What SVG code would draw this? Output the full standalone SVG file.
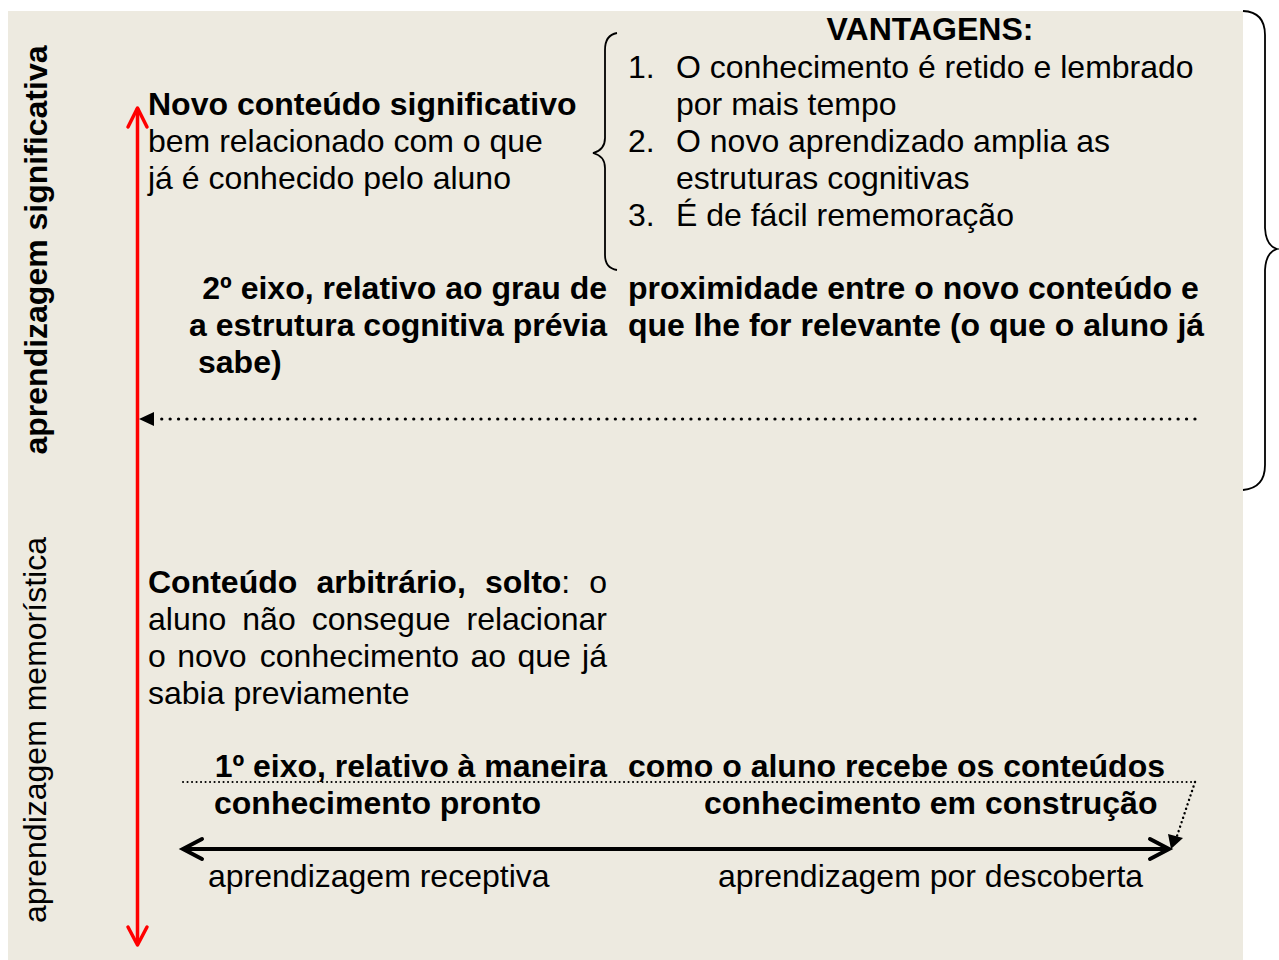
<svg xmlns="http://www.w3.org/2000/svg" width="1279" height="960" viewBox="0 0 1279 960">
<style>
text{font-family:"Liberation Sans",Arial,sans-serif;font-size:32px;fill:#000}
.b{font-weight:bold}
.brace{fill:none;stroke:#000;stroke-width:1.8}
</style>
<rect x="0" y="0" width="1279" height="960" fill="#fff"/>
<rect id="bg" x="8" y="11" width="1235" height="949" fill="#EDEAE0"/>

<g id="label-significativa"><text class="b" transform="translate(47,250) rotate(-90)" text-anchor="middle">aprendizagem significativa</text></g>
<g id="label-memoristica"><text transform="translate(46,730) rotate(-90)" text-anchor="middle">aprendizagem memorística</text></g>

<g id="novo-conteudo">
<text x="148" y="115" class="b">Novo conteúdo significativo</text>
<text x="148" y="152">bem relacionado com o que</text>
<text x="148" y="189">já é conhecido pelo aluno</text>
</g>

<g id="vantagens">
<text x="930" y="40" class="b" text-anchor="middle">VANTAGENS:</text>
<text x="628" y="78">1.</text><text x="676" y="78">O conhecimento é retido e lembrado</text>
<text x="676" y="115">por mais tempo</text>
<text x="628" y="152">2.</text><text x="676" y="152">O novo aprendizado amplia as</text>
<text x="676" y="189">estruturas cognitivas</text>
<text x="628" y="226">3.</text><text x="676" y="226">É de fácil rememoração</text>
</g>

<g id="eixo2">
<text x="607" y="299" class="b" text-anchor="end">2º eixo, relativo ao grau de</text>
<text x="607" y="336" class="b" text-anchor="end">a estrutura cognitiva prévia</text>
<text x="198" y="373" class="b">sabe)</text>
<text x="628" y="299" class="b">proximidade entre o novo conteúdo e</text>
<text x="628" y="336" class="b">que lhe for relevante (o que o aluno já</text>
</g>

<g id="conteudo-arbitrario">
<text x="148" y="593" class="b">Conteúdo</text>
<text x="316.4" y="593" class="b">arbitrário,</text>
<text x="484.9" y="593"><tspan class="b">solto</tspan>:</text>
<text x="607" y="593" text-anchor="end">o</text>
<text x="148" y="630">aluno</text>
<text x="242.3" y="630">não</text>
<text x="311.7" y="630">consegue</text>
<text x="607" y="630" text-anchor="end">relacionar</text>
<text x="148" y="667">o</text>
<text x="177.2" y="667">novo</text>
<text x="259.8" y="667">conhecimento</text>
<text x="470.4" y="667">ao</text>
<text x="517.4" y="667">que</text>
<text x="607" y="667" text-anchor="end">já</text>
<text x="148" y="704">sabia previamente</text>
</g>

<g id="eixo1">
<text x="607" y="777" class="b" text-anchor="end">1º eixo, relativo à maneira</text>
<text x="628" y="777" class="b">como o aluno recebe os conteúdos</text>
<text x="214" y="814" class="b">conhecimento pronto</text>
<text x="704" y="814" class="b">conhecimento em construção</text>
<text x="208" y="887">aprendizagem receptiva</text>
<text x="718" y="887">aprendizagem por descoberta</text>
</g>

<g id="braces">
<path class="brace" d="M617 33 Q605 35 605 50 L605 138 Q605 150 593 153 Q605 156 605 168 L605 255 Q605 268 617 270"/>
<path class="brace" d="M1243 11 Q1265 12 1265 35 L1265 228 Q1266 246 1277 249 Q1266 252 1265 270 L1265 465 Q1265 488 1243 490"/>
</g>

<g id="connectors">
<line x1="137.5" y1="108" x2="137.5" y2="944" stroke="#FF0000" stroke-width="3.5"/>
<polyline points="128,127 137.5,108 147,127" fill="none" stroke="#FF0000" stroke-width="3.5" stroke-linecap="round" stroke-linejoin="round"/>
<polyline points="128,927 137.5,945 147,927" fill="none" stroke="#FF0000" stroke-width="3.5" stroke-linecap="round" stroke-linejoin="round"/>

<line x1="1195" y1="419" x2="161" y2="419" stroke="#000" stroke-width="3.2" stroke-linecap="round" stroke-dasharray="0.1 8.3"/>
<path d="M139 419 L154 412 L154 426 Z" fill="#000"/>

<line x1="183" y1="782" x2="1195" y2="782" stroke="#000" stroke-width="2" stroke-linecap="round" stroke-dasharray="0.1 4.4"/>
<line x1="1195" y1="782" x2="1177" y2="836" stroke="#000" stroke-width="2.4" stroke-linecap="round" stroke-dasharray="0.1 4.6"/>
<path d="M1171 849 L1168 834 L1183 838 Z" fill="#000"/>

<line x1="184" y1="849" x2="1168" y2="849" stroke="#000" stroke-width="4"/>
<polyline points="202,839 183,849 202,859" fill="none" stroke="#000" stroke-width="4" stroke-linecap="round" stroke-linejoin="miter"/>
<polyline points="1150,839 1169,849 1150,859" fill="none" stroke="#000" stroke-width="4" stroke-linecap="round" stroke-linejoin="miter"/>
</g>
</svg>
